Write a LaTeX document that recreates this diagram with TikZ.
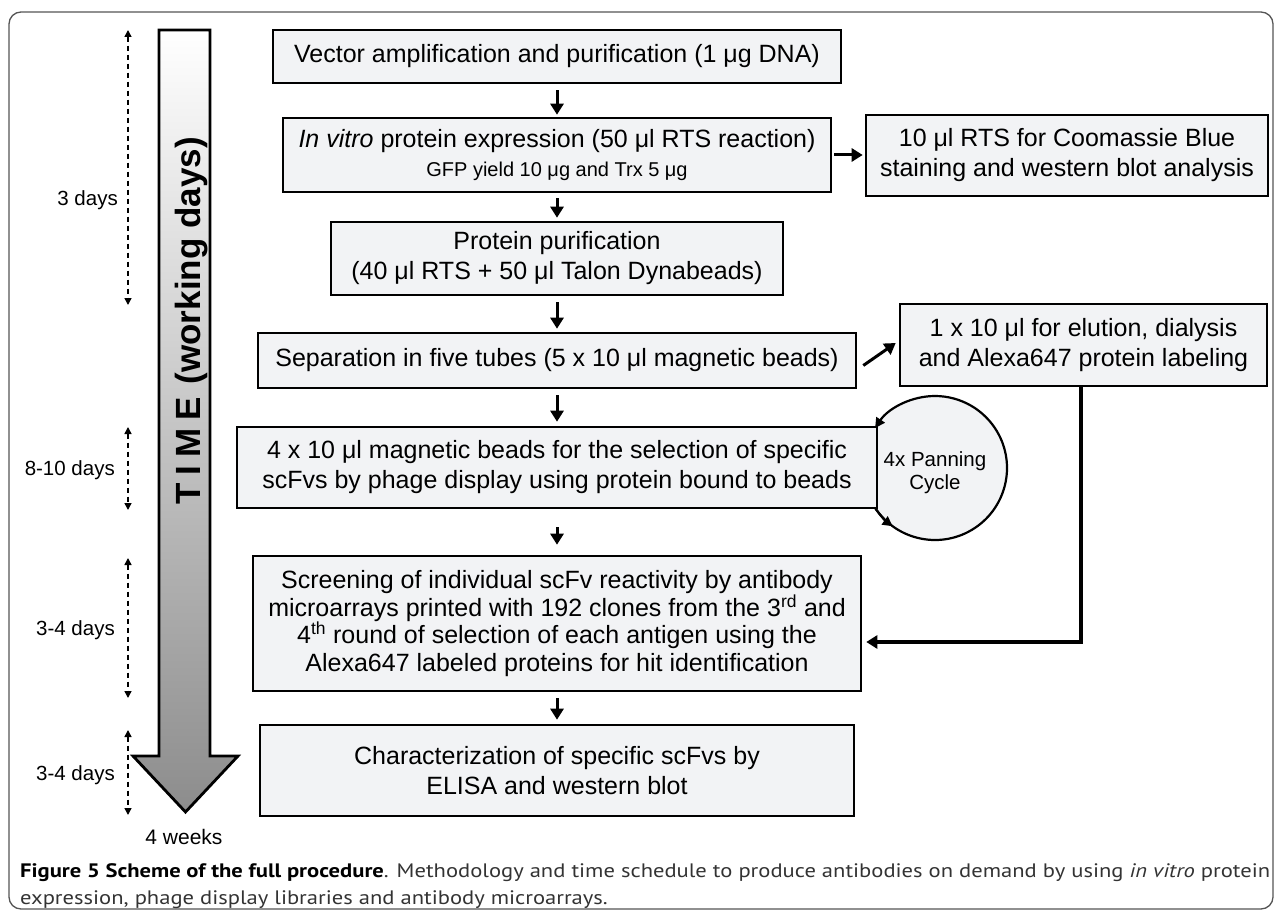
\documentclass[tikz,border=0pt]{standalone}
\usepackage{fontspec}
\setmainfont{Liberation Sans}
\newfontfamily\capfont{PT Sans}
\usetikzlibrary{arrows.meta,calc}
\definecolor{boxfill}{HTML}{F2F3F5}
\definecolor{framegray}{HTML}{555555}
\newsavebox\capboxA
\begin{document}
\begin{tikzpicture}[x=1pt,y=-1pt,
  stepbox/.style={draw=black, line width=2.6pt, fill=boxfill, inner sep=0pt, align=center, font=\fontsize{25}{30}\selectfont},
  flowarrow/.style={line width=3pt, -{Triangle[length=11pt,width=13pt]}},
  dayspan/.style={line width=1.5pt, dash pattern=on 5pt off 4pt, {Triangle[length=7pt,width=7pt]}-{Triangle[length=7pt,width=7pt]}},
  daylab/.style={anchor=east, font=\fontsize{20.5}{24}\selectfont, inner sep=0pt},
  cyclearrow/.style={line width=2.2pt, -{Triangle[length=10pt,width=10pt]}},
]
\useasboundingbox (0,0) rectangle (1282,912);
% frame
\draw[framegray, line width=1.3pt, rounded corners=12pt] (9,12) rectangle (1273,909);

% time arrow
\draw[line width=2.8pt, top color=white, bottom color=black!45, line join=miter]
  (159,30) -- (210,30) -- (210,756) -- (238,756) -- (185.5,812) -- (133,756) -- (159,756) -- cycle;
\node[rotate=90, anchor=base, inner sep=0pt, font=\fontsize{35}{40}\selectfont\bfseries] (time) at (200,321)
  {T\hspace{8pt}I\hspace{8pt}M\hspace{8pt}E\hspace{3pt} (working days)};

% day spans
\coordinate (d1a) at (128,30);  \coordinate (d1b) at (128,305);
\coordinate (d2a) at (128,427); \coordinate (d2b) at (128,510);
\coordinate (d3a) at (128,558); \coordinate (d3b) at (128,698);
\coordinate (d4a) at (128,730); \coordinate (d4b) at (128,815);
\draw[dayspan] (d1a) -- (d1b);
\draw[dayspan] (d2a) -- (d2b);
\draw[dayspan] (d3a) -- (d3b);
\draw[dayspan] (d4a) -- (d4b);
\node[daylab] (l1) at (118,200) {3 days};
\node[daylab] (l2) at (115,470) {8-10 days};
\node[daylab] (l3) at (115,630) {3-4 days};
\node[daylab] (l4) at (115,775) {3-4 days};
\node[font=\fontsize{21}{24}\selectfont, inner sep=0pt] (wk) at (184,837) {4 weeks};

% boxes
\node[stepbox, minimum width=568pt, minimum height=53pt] (b1) at (557,56.5)
  {Vector amplification and purification (1 μg DNA)};
\node[stepbox, minimum width=548pt, minimum height=74pt] (b2) at (557,155)
  {\textit{In vitro} protein expression (50 μl RTS reaction)\\[-1pt]{\fontsize{20}{30}\selectfont GFP yield 10 μg and Trx 5 μg}};
\node[stepbox, minimum width=402pt, minimum height=81pt] (b3) at (1067,155.5)
  {10 μl RTS for Coomassie Blue\\staining and western blot analysis};
\node[stepbox, minimum width=452pt, minimum height=73pt] (b4) at (557,258.5)
  {Protein purification\\(40 μl RTS + 50 μl Talon Dynabeads)};
\node[stepbox, minimum width=598pt, minimum height=55pt] (b5) at (557,360.5)
  {Separation in five tubes (5 x 10 μl magnetic beads)};
\node[stepbox, minimum width=367pt, minimum height=82pt] (b6) at (1083.5,345)
  {1 x 10 μl for elution, dialysis\\and Alexa647 protein labeling};

% panning cycle
\coordinate (cc) at (935,468);
\fill[boxfill] (cc) circle[radius=72];
\node[stepbox, minimum width=640pt, minimum height=81pt] (b7) at (557,467.5)
  {4 x 10 μl magnetic beads for the selection of specific\\scFvs by phage display using protein bound to beads};
\draw[cyclearrow] ($(cc)+(146.3:72)$) arc[start angle=146.3, end angle=-146.3, radius=72];
\draw[cyclearrow] ($(cc)+(146.3:72)$) arc[start angle=146.3, end angle=126, radius=72];
\node[align=center, inner sep=0pt, font=\fontsize{20.5}{23}\selectfont] (pc) at (935,473) {4x Panning\\Cycle};

\node[stepbox, minimum width=608pt, minimum height=135pt, font=\fontsize{25}{27.5}\selectfont] (b8) at (557,623.5)
  {Screening of individual scFv reactivity by antibody\\microarrays printed with 192 clones from the 3\textsuperscript{rd} and\\4\textsuperscript{th} round of selection of each antigen using the\\Alexa647 labeled proteins for hit identification};
\node[stepbox, minimum width=594pt, minimum height=91pt] (b9) at (557,770.5)
  {Characterization of specific scFvs by\\ELISA and western blot};

% connectors
\draw[flowarrow] ($(b1.south)+(0,6)$) -- ($(b2.north)+(0,-2)$);
\draw[flowarrow] ($(b2.south)+(0,5)$) -- ($(b4.north)+(0,-3)$);
\draw[flowarrow] ($(b4.south)+(0,6)$) -- ($(b5.north)+(0,-3)$);
\draw[flowarrow] ($(b5.south)+(0,6)$) -- ($(b7.north)+(0,-4)$);
\draw[flowarrow] ($(b7.south)+(0,18)$) -- ($(b8.north)+(0,-10)$);
\draw[flowarrow] ($(b8.south)+(0,6)$) -- ($(b9.north)+(0,-4)$);
\draw[flowarrow] ($(b2.east)+(2,0)$) -- ($(b3.west)+(-2,-0.5)$);
\draw[flowarrow] ($(b5.east)+(6,5)$) -- ($(b6.west)+(-3,-2)$);
\coordinate (elb) at (1081,642);
\draw[line width=3.5pt, -{Triangle[length=11pt,width=13pt]}] (b6.south -| elb) -- (elb) -- ($(b8.east |- elb)+(4,0)$);

% caption
\node[anchor=base west, inner sep=0pt] (cap1) at (20,877) {\sbox\capboxA{\capfont\fontsize{19.5}{23}\selectfont\textbf{Figure 5 Scheme of the full procedure}\textcolor{black!80}{. Methodology and time schedule to produce antibodies on demand by using \textit{in vitro} protein}}\pgfmathsetmacro\capscaleL{1250/\wd\capboxA}\global\let\capscale\capscaleL\scalebox{\capscale}[1]{\usebox\capboxA}};
\node[anchor=base west, inner sep=0pt, text=black!80] (cap2) at (20,904) {\scalebox{\capscale}[1]{\capfont\fontsize{19.5}{23}\selectfont expression, phage display libraries and antibody microarrays.}};
\end{tikzpicture}
\end{document}
